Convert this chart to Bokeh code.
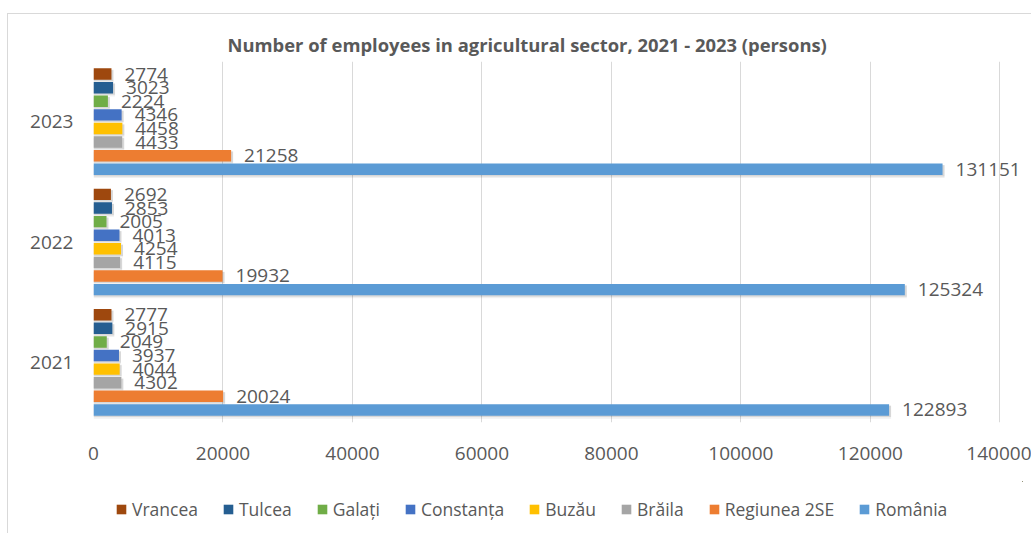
from bokeh.plotting import figure
from bokeh.models import (FactorRange, Range1d, FixedTicker, NumeralTickFormatter,
                          Legend, LegendItem, ColumnDataSource)
from bokeh.transform import dodge
from bokeh.core.properties import value
from bokeh.layouts import column
from bokeh.embed import file_html
from bokeh.resources import INLINE

# ---------------- data ----------------
years = ["2021", "2022", "2023"]
series = ["România", "Regiunea 2SE", "Brăila", "Buzău", "Constanța", "Galați", "Tulcea", "Vrancea"]
romania = [122893, 125324, 131151]
regiunea_2se = [20024, 19932, 21258]
braila = [4302, 4115, 4433]
buzau = [4044, 4254, 4458]
constanta = [3937, 4013, 4346]
galati = [2049, 2005, 2224]
tulcea = [2915, 2853, 3023]
vrancea = [2777, 2692, 2774]
x_ticks = [0, 20000, 40000, 60000, 80000, 100000, 120000, 140000]
title_text = "Number of employees in agricultural sector, 2021 - 2023 (persons)"

series_values = [romania, regiunea_2se, braila, buzau, constanta, galati, tulcea, vrancea]
colors = ["#5B9BD5", "#ED7D31", "#A5A5A5", "#FFC000", "#4472C4", "#70AD47", "#255E91", "#9E480E"]

# ---------------- layout constants ----------------
FONT = "Open Sans"
TXT = "#595959"
NUM_SIZE = "19px"
X_END = 143500
FRAME_W = 928
FRAME_H = 360
PX_PER_UNIT = FRAME_W / X_END
CAT_PX = FRAME_H / len(years)
SLOT = 0.113
BAR_H = 0.095
BORDER = "1px solid #D9D9D9"

p = figure(y_range=FactorRange(factors=years, range_padding=0),
           x_range=Range1d(0, X_END),
           frame_width=FRAME_W, frame_height=FRAME_H,
           min_border_left=85, min_border_right=10, min_border_top=47, min_border_bottom=60,
           output_backend="svg", toolbar_location=None)

p.outline_line_color = None
p.background_fill_color = "white"
p.border_fill_color = "white"
p.ygrid.grid_line_color = None
p.xgrid.grid_line_color = "#D9D9D9"
p.xgrid.ticker = FixedTicker(ticks=x_ticks)

p.xaxis.ticker = FixedTicker(ticks=x_ticks)
p.xaxis.formatter = NumeralTickFormatter(format="0")
p.xaxis.axis_line_color = None
p.xaxis.major_tick_line_color = None
p.xaxis.minor_tick_line_color = None
p.xaxis.major_tick_out = 0
p.xaxis.major_tick_in = 0
p.xaxis.major_label_standoff = 24
p.xaxis.major_label_text_font = FONT
p.xaxis.major_label_text_font_size = NUM_SIZE
p.xaxis.major_label_text_color = TXT

p.yaxis.axis_line_color = None
p.yaxis.major_tick_line_color = None
p.yaxis.minor_tick_line_color = None
p.yaxis.major_tick_out = 0
p.yaxis.major_tick_in = 0
p.yaxis.major_label_standoff = 20
p.yaxis.major_label_text_font = FONT
p.yaxis.major_label_text_font_size = NUM_SIZE
p.yaxis.major_label_text_color = TXT

p.title.text = title_text
p.title.align = "left"
p.title.offset = 134
p.title.standoff = 10
p.title.text_font = FONT
p.title.text_font_size = "18.4px"
p.title.text_font_style = "bold"
p.title.text_color = TXT

shadow_dx = 2 / PX_PER_UNIT
shadow_dy = 2 / CAT_PX

sources = []
for j, (name, vals) in enumerate(zip(series, series_values)):
    src = ColumnDataSource(dict(year=years, value=vals,
                                shadow=[v + shadow_dx for v in vals],
                                label=[str(v) for v in vals]))
    sources.append(src)

# soft shadows
for j, src in enumerate(sources):
    off = (j - 3.5) * SLOT
    p.hbar(y=dodge("year", off - shadow_dy * 1.2, range=p.y_range), left=0, right="shadow",
           height=BAR_H + 0.01, source=src, fill_color="black", fill_alpha=0.06, line_color=None)
    p.hbar(y=dodge("year", off - shadow_dy * 0.7, range=p.y_range), left=0, right="shadow",
           height=BAR_H, source=src, fill_color="black", fill_alpha=0.10, line_color=None)

for j, src in enumerate(sources):
    off = (j - 3.5) * SLOT
    p.hbar(y=dodge("year", off, range=p.y_range), left=0, right="value",
           height=BAR_H, source=src, fill_color=colors[j], line_color=None)

for j, src in enumerate(sources):
    off = (j - 3.5) * SLOT
    p.text(x="value", y=dodge("year", off, range=p.y_range), text="label", source=src,
           x_offset=13, text_baseline="middle", text_align="left",
           text_font=value(FONT), text_font_size=NUM_SIZE, text_color=TXT)

p.styles = {"margin-top": "13px", "margin-left": "7px", "border-top": BORDER, "border-left": BORDER}

# ---------------- legend strip (separate figure below) ----------------
lg = figure(x_range=Range1d(0, 1), y_range=Range1d(0, 1),
            frame_width=FRAME_W, frame_height=52,
            min_border_left=85, min_border_right=10, min_border_top=0, min_border_bottom=0,
            output_backend="svg", toolbar_location=None)
lg.axis.visible = False
lg.grid.visible = False
lg.outline_line_color = None
lg.background_fill_color = "white"
lg.border_fill_color = "white"

# legend proxies: the series data, which fall outside this strip's 0..1 view
legend_renderers = {}
for j, name in enumerate(series):
    legend_renderers[name] = lg.hbar(y="value", left="value", right="value", height=1,
                                     source=sources[j], fill_color=colors[j], line_color=None)

items = [LegendItem(label=series[j], renderers=[legend_renderers[series[j]]], index=0)
         for j in reversed(range(len(series)))]
legend = Legend(items=items, orientation="horizontal", location=(22, 12),
                glyph_width=12, glyph_height=12, label_standoff=5, spacing=24,
                label_text_font=FONT, label_text_font_size="17.5px", label_text_color=TXT,
                border_line_color=None, background_fill_alpha=0, margin=0, padding=0)
lg.add_layout(legend, "center")
lg.styles = {"margin-left": "7px", "border-left": BORDER}

layout = column(p, lg)
open("out.html", "w").write(file_html(layout, INLINE))
